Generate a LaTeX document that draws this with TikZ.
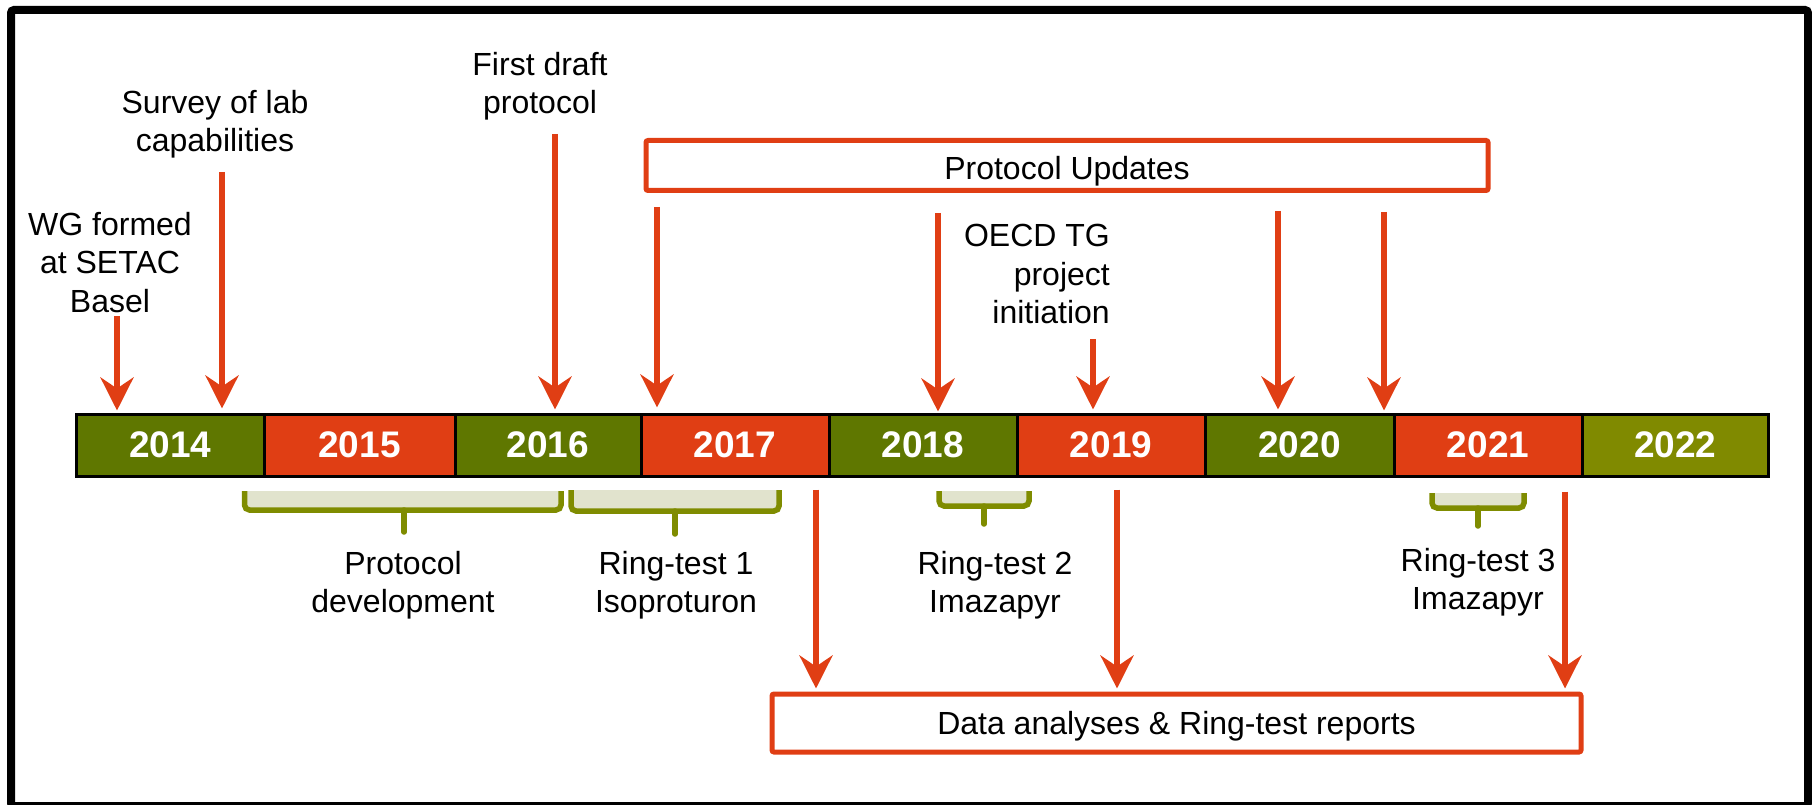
\documentclass[tikz,border=0pt]{standalone}
\usepackage{fontspec}
\setmainfont{Liberation Sans}
\usetikzlibrary{arrows.meta}
\definecolor{tred}{HTML}{E03E14}
\definecolor{tgreen}{HTML}{5F7700}
\definecolor{tolive}{HTML}{808A00}
\definecolor{bolive}{HTML}{7F8C00}
\definecolor{blight}{HTML}{E1E3CD}
\begin{document}
\begin{tikzpicture}[x=1pt,y=-1pt,
  yr/.style={draw=black, line width=3pt, inner sep=0pt, minimum height=62pt,
    text=white, font=\fontsize{37}{40}\selectfont\bfseries},
  lbl/.style={inner sep=0pt, align=center, font=\fontsize{32}{38.5}\selectfont},
  rbox/.style={draw=tred, line width=5pt, rounded corners=2pt, inner sep=0pt,
    font=\fontsize{32}{38.5}\selectfont, text depth=0pt},
  arr/.style={draw=tred, line width=6pt, -{Stealth[length=33pt,width=33pt,inset=11pt]}},
  bfill/.style={fill=blight},
  bline/.style={draw=bolive, line width=5.5pt},
  stem/.style={draw=bolive, line width=5.5pt, line cap=round}]
\useasboundingbox (0,0) rectangle (1812,805);
% outer frame
\draw[line width=8pt, rounded corners=3pt] (11,10) rectangle (1808,806);

% timeline
\node[yr, fill=tgreen, minimum width=187.5pt] (y14) at (170.25,445) {2014};
\node[yr, fill=tred,   minimum width=191pt]   (y15) at (359.5,445) {2015};
\node[yr, fill=tgreen, minimum width=186pt]   (y16) at (548,445) {2016};
\node[yr, fill=tred,   minimum width=188pt]   (y17) at (735,445) {2017};
\node[yr, fill=tgreen, minimum width=188pt]   (y18) at (923,445) {2018};
\node[yr, fill=tred,   minimum width=188pt]   (y19) at (1111,445) {2019};
\node[yr, fill=tgreen, minimum width=189pt]   (y20) at (1299.5,445) {2020};
\node[yr, fill=tred,   minimum width=188pt]   (y21) at (1488,445) {2021};
\node[yr, fill=tolive, minimum width=186.5pt] (y22) at (1675.25,445) {2022};

% labels above
\node[lbl, anchor=north] (wg) at (110,212) {WG formed\\at SETAC\\Basel};
\node[lbl, anchor=north] (survey) at (215,90) {Survey of lab\\capabilities};
\node[lbl, anchor=north] (draft) at (540,52) {First draft\\protocol};
\node[lbl, anchor=north east, align=right] (oecd) at (1110,224) {OECD TG\\project\\initiation};

% boxes
\node[rbox, minimum width=842pt, minimum height=50pt, text height=29pt] (pu) at (1067,165.5) {Protocol Updates};
\node[rbox, minimum width=809pt, minimum height=58pt, text height=22pt] (data) at (1176.5,723) {Data analyses \& Ring-test reports};

% arrow start coordinates
\coordinate (sWG) at (117,316);
\coordinate (sSurvey) at (222,172);
\coordinate (sDraft) at (555,134);
\coordinate (sOECD) at (1093,339);
\coordinate (xP1) at (657,0);
\coordinate (xP2) at (938,0);
\coordinate (xP3) at (1278,0);
\coordinate (xP4) at (1384,0);
\coordinate (xD1) at (816,0);
\coordinate (xD2) at (1117,0);
\coordinate (xD3) at (1565,0);

% arrows down to timeline
\draw[arr, shorten >=2pt] (sWG) -- (sWG |- y14.north);
\draw[arr, shorten >=4pt] (sSurvey) -- (sSurvey |- y14.north);
\draw[arr, shorten >=3pt] (sDraft) -- (sDraft |- y16.north);
\draw[arr, shorten >=3pt] (sOECD) -- (sOECD |- y19.north);
\draw[arr, shorten <=14pt, shorten >=5pt] (pu.south -| xP1) -- (xP1 |- y17.north);
\draw[arr, shorten <=20pt, shorten >=1pt] (pu.south -| xP2) -- (xP2 |- y18.north);
\draw[arr, shorten <=18pt, shorten >=3pt] (pu.south -| xP3) -- (xP3 |- y20.north);
\draw[arr, shorten <=19pt, shorten >=2pt] (pu.south -| xP4) -- (xP4 |- y20.north);

% arrows down to data box
\draw[arr, shorten <=12pt, shorten >=3pt] (y17.south -| xD1) -- (xD1 |- data.north);
\draw[arr, shorten <=12pt, shorten >=3pt] (y19.south -| xD2) -- (xD2 |- data.north);
\draw[arr, shorten <=14pt, shorten >=3pt] (y21.south -| xD3) -- (xD3 |- data.north);

% brackets
\fill[bfill] (244.5,491) rectangle (561,510);
\draw[bline, rounded corners=5pt] (244.5,491) -- (244.5,510) -- (561,510) -- (561,491);
\draw[stem] (404,510) -- (404,532);

\fill[bfill] (571,490) rectangle (779,511);
\draw[bline, rounded corners=5pt] (571,490) -- (571,511) -- (779,511) -- (779,490);
\draw[stem] (675,511) -- (675,534);

\fill[bfill] (939,491) rectangle (1029,506);
\draw[bline, rounded corners=5pt] (939,491) -- (939,506) -- (1029,506) -- (1029,491);
\draw[stem] (984,506) -- (984,524);

\fill[bfill] (1432,493) rectangle (1524,508);
\draw[bline, rounded corners=5pt] (1432,493) -- (1432,508) -- (1524,508) -- (1524,493);
\draw[stem] (1478,508) -- (1478,526);

% labels below
\node[lbl, anchor=north] (pdev) at (403,551) {Protocol\\development};
\node[lbl, anchor=north] (rt1) at (676,551) {Ring-test 1\\Isoproturon};
\node[lbl, anchor=north] (rt2) at (995,551) {Ring-test 2\\Imazapyr};
\node[lbl, anchor=north] (rt3) at (1478,548) {Ring-test 3\\Imazapyr};
\end{tikzpicture}
\end{document}
